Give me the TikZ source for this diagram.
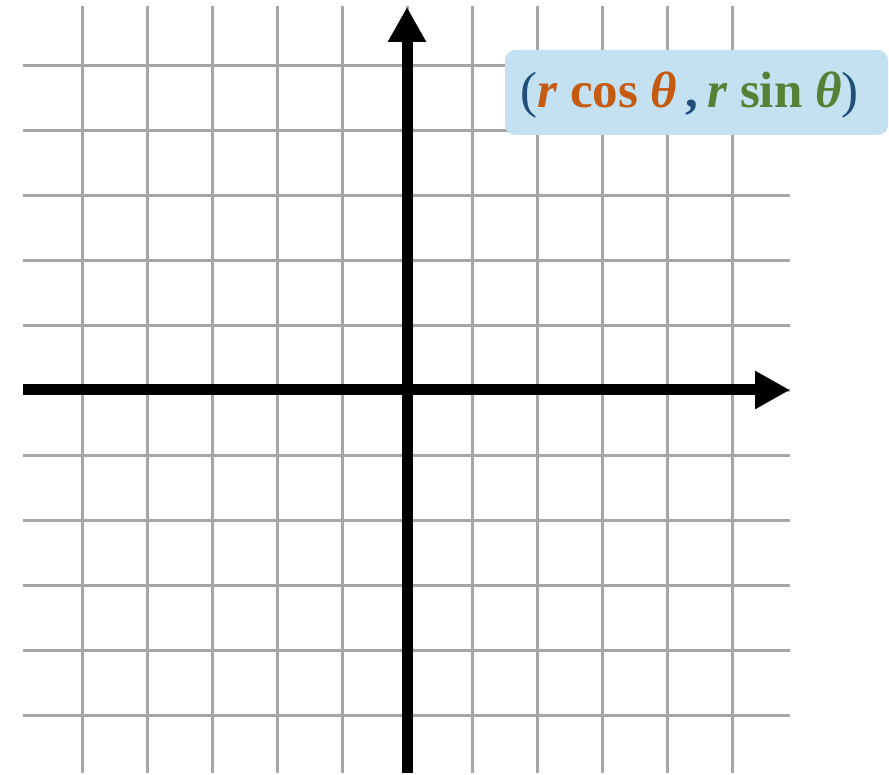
\documentclass[tikz,border=0pt]{standalone}
\usepackage{fontspec}
\setmainfont{Liberation Serif}
\usetikzlibrary{arrows.meta}
\definecolor{gridgray}{HTML}{A6A6A6}
\definecolor{boxblue}{RGB}{196,225,241}
\definecolor{cblue}{HTML}{1F4E79}
\definecolor{corange}{HTML}{C55A11}
\definecolor{cgreen}{HTML}{538135}
\tikzset{
  gridline/.style={draw=gridgray, line width=3pt},
  axisline/.style={draw=black, line width=11pt, -{Triangle[length=35pt,width=36pt]}},
  labelbox/.style={fill=boxblue, rounded corners=10pt, minimum width=383pt, minimum height=85pt, inner sep=0pt},
  labeltext/.style={inner sep=0pt, font=\fontsize{51}{56}\selectfont\bfseries}
}
\begin{document}
\begin{tikzpicture}[x=1pt,y=-1pt]
\useasboundingbox (0,0) rectangle (889,775);
% grid
\foreach \i in {0,...,10} {
  \draw[gridline] ({82.5+65*\i},6) -- ({82.5+65*\i},773);
  \draw[gridline] (23,{65.5+65*\i}) -- (790,{65.5+65*\i});
}
% axes
\coordinate (xs) at (23,390);
\coordinate (xe) at (790,390);
\coordinate (ys) at (407,773);
\coordinate (ye) at (407,7);
\draw[axisline] (xs) -- (xe);
\draw[axisline] (ys) -- (ye);
% label
\node[labelbox] (box) at (696.5,92.5) {};
\node[labeltext] (lbl) at (689.5,95.5) {{\color{cblue}\mdseries(}{\color{corange}\textit{r} cos \textit{θ}}\,{\color{cblue},}\,{\color{cgreen}\textit{r} sin \textit{θ}}{\color{cblue}\mdseries)}};
\end{tikzpicture}
\end{document}
